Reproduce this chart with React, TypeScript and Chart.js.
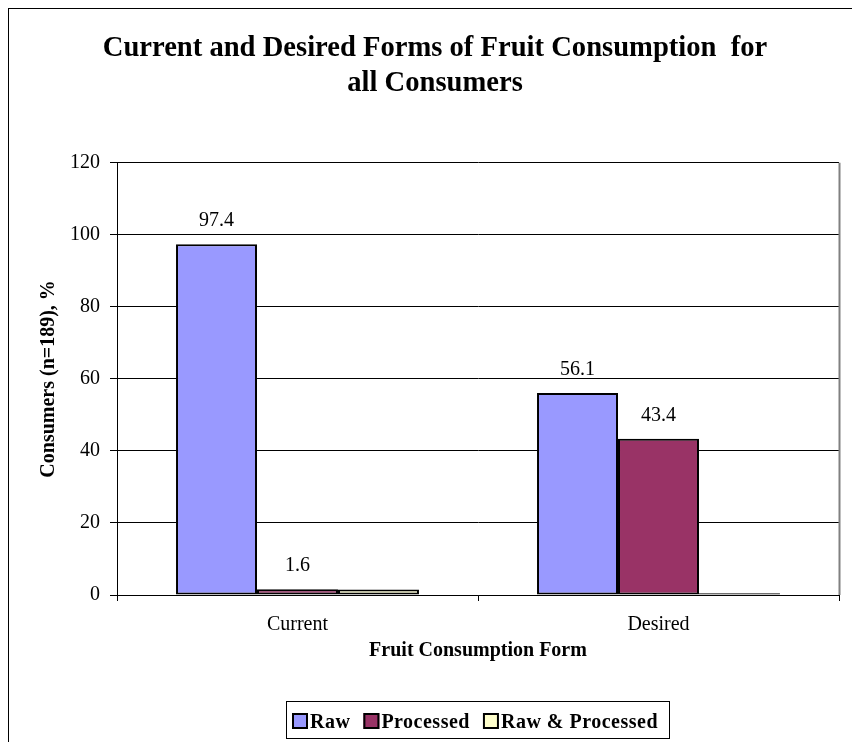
import React, { useEffect, useRef } from "react";
import { Chart, registerables } from "chart.js";

Chart.register(...registerables);

const categories = ["Current", "Desired"];
const seriesNames = ["Raw", "Processed", "Raw & Processed"];
const rawValues = [97.4, 56.1];
const processedValues = [1.6, 43.4];
const rawProcessedValues = [1.5, 0.5];
const seriesColors = ["#9999FF", "#993366", "#FFFFCC"];
const labeledSeries = [true, true, false];
const yTicks = [0, 20, 40, 60, 80, 100, 120];
const titleLines = ["Current and Desired Forms of Fruit Consumption  for", "all Consumers"];
const yAxisTitle = "Consumers (n=189), %";
const xAxisTitle = "Fruit Consumption Form";

const FONT = "'Liberation Serif', 'Times New Roman', Times, serif";
const W = 854;
const H = 760;

const framePlugin = {
  id: "frame",
  beforeDraw(chart: any) {
    const { ctx, width, height } = chart;
    ctx.save();
    ctx.fillStyle = "#ffffff";
    ctx.fillRect(0, 0, width, height);
    ctx.strokeStyle = "#000000";
    ctx.lineWidth = 1;
    ctx.strokeRect(0.5, 0.5, width - 1, height - 1);
    ctx.restore();
  },
  afterDraw(chart: any) {
    const { ctx, chartArea } = chart;
    ctx.save();
    ctx.strokeStyle = "#808080";
    ctx.lineWidth = 2;
    ctx.beginPath();
    ctx.moveTo(chartArea.right + 0.5, chartArea.top);
    ctx.lineTo(chartArea.right + 0.5, chartArea.bottom);
    ctx.stroke();
    ctx.restore();
  },
};

const valueLabelPlugin = {
  id: "valueLabels",
  afterDatasetsDraw(chart: any) {
    const { ctx } = chart;
    ctx.save();
    ctx.font = `20px ${FONT}`;
    ctx.fillStyle = "#000000";
    ctx.textAlign = "center";
    ctx.textBaseline = "middle";
    chart.data.datasets.forEach((ds: any, i: number) => {
      if (!labeledSeries[i]) return;
      const meta = chart.getDatasetMeta(i);
      meta.data.forEach((bar: any, j: number) => {
        const v = ds.data[j];
        ctx.fillText(Number(v).toFixed(1), bar.x, bar.y - 23);
      });
    });
    ctx.restore();
  },
};

const legendPlugin = {
  id: "boxLegend",
  afterDraw(chart: any) {
    const { ctx, chartArea } = chart;
    const datasets = chart.data.datasets;
    ctx.save();
    ctx.font = `bold 20px ${FONT}`;
    try {
      (ctx as any).letterSpacing = "0.5px";
    } catch (e) {}
    const sq = 16;
    const gapSq = 2;
    const gapItem = 13;
    const padL = 6;
    const padR = 11;
    const widths = datasets.map((d: any) => ctx.measureText(d.label).width);
    let total = padL + padR + gapItem * (datasets.length - 1);
    widths.forEach((w: number) => (total += sq + gapSq + w));
    const cx = (chartArea.left + chartArea.right) / 2;
    const left = Math.round(cx - total / 2);
    const top = chartArea.bottom + 106;
    const h = 37;
    ctx.strokeStyle = "#000000";
    ctx.lineWidth = 1;
    ctx.strokeRect(left + 0.5, top + 0.5, Math.round(total), h);
    let x = left + padL;
    datasets.forEach((d: any, i: number) => {
      const sy = top + 12;
      ctx.fillStyle = d.backgroundColor;
      ctx.fillRect(x, sy, sq, sq);
      ctx.strokeStyle = "#000000";
      ctx.lineWidth = 2;
      ctx.strokeRect(x + 1, sy + 1, sq - 2, sq - 2);
      x += sq + gapSq;
      ctx.fillStyle = "#000000";
      ctx.textAlign = "left";
      ctx.textBaseline = "alphabetic";
      ctx.fillText(d.label, x, top + 27);
      x += widths[i] + gapItem;
    });
    ctx.restore();
  },
};

export default function App() {
  const ref = useRef<HTMLCanvasElement | null>(null);

  useEffect(() => {
    if (!ref.current) return;
    const values = [rawValues, processedValues, rawProcessedValues];
    const chart = new Chart(ref.current, {
      type: "bar",
      data: {
        labels: categories,
        datasets: seriesNames.map((name, i) => ({
          label: name,
          data: values[i],
          backgroundColor: seriesColors[i],
          borderColor: "#000000",
          borderWidth: 2,
          borderSkipped: false,
          inflateAmount: 0,
          barPercentage: 1,
          categoryPercentage: 0.673,
        })),
      },
      options: {
        responsive: false,
        animation: false,
        devicePixelRatio: 1,
        layout: { padding: { left: 23, right: 23, top: 0, bottom: 0 } },
        plugins: {
          legend: { display: false },
          tooltip: { enabled: false },
          title: {
            display: true,
            text: titleLines,
            color: "#000000",
            font: { family: FONT, size: 28.6, weight: "bold", lineHeight: 1.22 },
            padding: { top: 23, bottom: 62 },
          },
        },
        scales: {
          x: {
            afterFit(scale: any) {
              scale.height = 173;
            },
            grid: {
              display: true,
              drawOnChartArea: false,
              drawTicks: true,
              tickLength: 6,
              color: "#000000",
              offset: true,
            },
            border: { display: true, color: "#000000", width: 1 },
            ticks: {
              color: "#000000",
              font: { family: FONT, size: 20 },
              padding: 12,
            },
            title: {
              display: true,
              text: xAxisTitle,
              color: "#000000",
              font: { family: FONT, size: 20, weight: "bold" },
              padding: { top: 0, bottom: 105 },
            },
          },
          y: {
            min: yTicks[0],
            max: yTicks[yTicks.length - 1],
            afterFit(scale: any) {
              scale.width = 86;
            },
            afterBuildTicks(scale: any) {
              scale.ticks = yTicks.map((v) => ({ value: v }));
            },
            grid: {
              display: true,
              drawTicks: true,
              tickLength: 7,
              color: "#000000",
              lineWidth: 1,
            },
            border: { display: true, color: "#000000", width: 1 },
            ticks: {
              color: "#000000",
              font: { family: FONT, size: 20 },
              padding: 10,
            },
            title: {
              display: true,
              text: yAxisTitle,
              color: "#000000",
              font: { family: FONT, size: 20, weight: "bold" },
              padding: { top: 6, bottom: 0 },
            },
          },
        },
      },
      plugins: [framePlugin, valueLabelPlugin, legendPlugin],
    } as any);
    return () => chart.destroy();
  }, []);

  return (
    <div
      style={{
        position: "fixed",
        left: 8,
        top: 8,
        width: 844,
        height: 734,
        overflow: "hidden",
        background: "#ffffff",
      }}
    >
      <canvas ref={ref} width={W} height={H} style={{ display: "block", width: W, height: H }} />
    </div>
  );
}
